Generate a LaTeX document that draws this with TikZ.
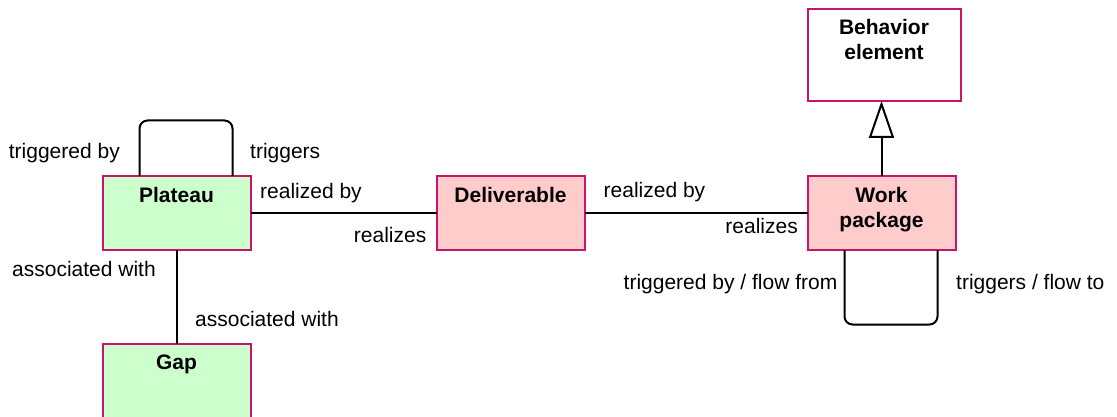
\documentclass[tikz,border=0pt]{standalone}
\usepackage{fontspec}
\setmainfont{Liberation Sans}
\usetikzlibrary{arrows.meta}
\definecolor{bord}{RGB}{200,20,110}
\definecolor{greenfill}{RGB}{204,255,204}
\definecolor{pinkfill}{RGB}{255,204,204}
\begin{document}
\begin{tikzpicture}[x=1pt,y=-1pt,
  box/.style={draw=bord,line width=2pt,minimum width=148pt,minimum height=74pt,inner sep=0pt,outer sep=0pt,anchor=north west},
  title/.style={font=\fontsize{21}{25}\selectfont\bfseries,inner sep=0pt,anchor=base},
  lbl/.style={font=\fontsize{21}{25}\selectfont,inner sep=0pt},
  conn/.style={line width=2pt,draw=black}]
\useasboundingbox (0,0) rectangle (1117,417);
% boxes
\node[box,minimum width=153pt,minimum height=92pt] (be) at (807.5,9) {};
\node[box,fill=greenfill] (plateau) at (102.5,176) {};
\node[box,fill=pinkfill] (deliv) at (436.5,176) {};
\node[box,fill=pinkfill] (wp) at (807.5,176) {};
\node[box,fill=greenfill,minimum height=90pt] (gap) at (102.5,343.5) {};
% titles
\node[title] (t1) at (884,35) {Behavior};
\node[title] (t2) at (884,60) {element};
\node[title] (t3) at (176.5,202) {Plateau};
\node[title] (t4) at (510.5,202) {Deliverable};
\node[title] (t5) at (881.5,202) {Work};
\node[title] (t6) at (881.5,227) {package};
\node[title] (t7) at (176.5,369) {Gap};
% connectors
\draw[conn] (plateau.east) -- (deliv.west);
\draw[conn] (deliv.east) -- (wp.west);
\draw[conn] (plateau.south) -- (gap.north);
\draw[conn,-{Triangle[open,length=37pt,width=25pt,line width=2pt]}] (wp.north) -- (wp.north |- be.south);
\draw[conn,rounded corners=8pt] ([xshift=-37pt]plateau.north) -- ++(0,-55.5) -| ([xshift=56pt]plateau.north);
\draw[conn,rounded corners=8pt] ([xshift=-37pt]wp.south) -- ++(0,74.5) -| ([xshift=56pt]wp.south);
% labels
\node[lbl,anchor=base east] (l1) at (120,159) {triggered by};
\node[lbl,anchor=base west] (l2) at (250,159) {triggers};
\node[lbl,anchor=base west] (l3) at (260,199) {realized by};
\node[lbl,anchor=base east] (l4) at (426.5,242) {realizes};
\node[lbl,anchor=base west] (l5) at (603.5,197) {realized by};
\node[lbl,anchor=base east] (l6) at (798,233.5) {realizes};
\node[lbl,anchor=base east] (l7) at (837.5,289) {triggered by / flow from};
\node[lbl,anchor=base west] (l8) at (956,289) {triggers / flow to};
\node[lbl,anchor=base west] (l9) at (12,276) {associated with};
\node[lbl,anchor=base west] (l10) at (195,326) {associated with};
\end{tikzpicture}
\end{document}
